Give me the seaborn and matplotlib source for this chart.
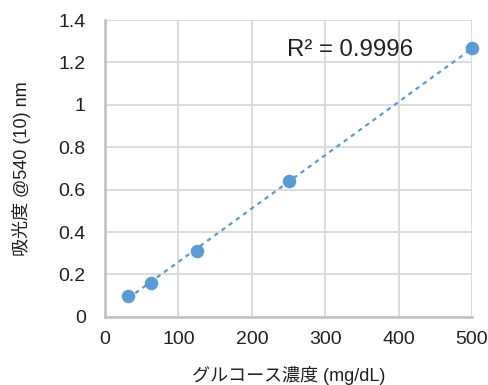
import numpy as np
import pandas as pd
import matplotlib
matplotlib.use("Agg")
import matplotlib.pyplot as plt
import seaborn as sns
from matplotlib.ticker import FuncFormatter

# data
glucose = [31.25, 62.5, 125, 250, 500]
absorbance = [0.099, 0.160, 0.311, 0.641, 1.266]
r2_label = "R² = 0.9996"
x_label = "グルコース濃度 (mg/dL)"
y_label = "吸光度 @540 (10) nm"

df = pd.DataFrame({"glucose": glucose, "absorbance": absorbance})

sns.set_style("whitegrid")
plt.rcParams['font.family'] = ['Liberation Sans', 'Noto Sans CJK JP', 'DejaVu Sans']

fig = plt.figure(figsize=(4.89, 3.85), dpi=100)
ax = fig.add_axes([0.215, 0.177, 0.75, 0.771])

blue = "#5B9BD5"

# linear trendline
slope, icept = np.polyfit(df["glucose"], df["absorbance"], 1)
xs = np.array([df["glucose"].min(), df["glucose"].max()])
ax.plot(xs, slope * xs + icept, color=blue, lw=1.6, ls=(0, (2, 2)), zorder=2)

sns.scatterplot(data=df, x="glucose", y="absorbance", ax=ax, s=95,
                color=blue, edgecolor=blue, linewidth=0, zorder=3, clip_on=False)

ax.set_xlim(0, 500)
ax.set_ylim(0, 1.4)
ax.set_xticks(range(0, 501, 100))
ax.set_yticks(np.arange(0, 1.41, 0.2))
ax.yaxis.set_major_formatter(FuncFormatter(lambda v, p: f"{v:g}"))
ax.tick_params(axis="both", length=0, labelsize=14, colors="#231f20")
ax.tick_params(axis="y", pad=14)
ax.tick_params(axis="x", pad=10)

ax.grid(True, color="#d9d9d9", lw=1.3)
for s in ["top", "right"]:
    ax.spines[s].set_visible(False)
for s in ["left", "bottom"]:
    ax.spines[s].set_color("#bfbfbf")
    ax.spines[s].set_linewidth(1.8)

ax.text(334, 1.26, r2_label, fontsize=17.3, color="#231f20", ha="center", va="center")

ax.set_xlabel(x_label, fontsize=13, color="#231f20", labelpad=13)
ax.set_ylabel(y_label, fontsize=13, color="#231f20", labelpad=20)

fig.savefig("out.png", dpi=100)
